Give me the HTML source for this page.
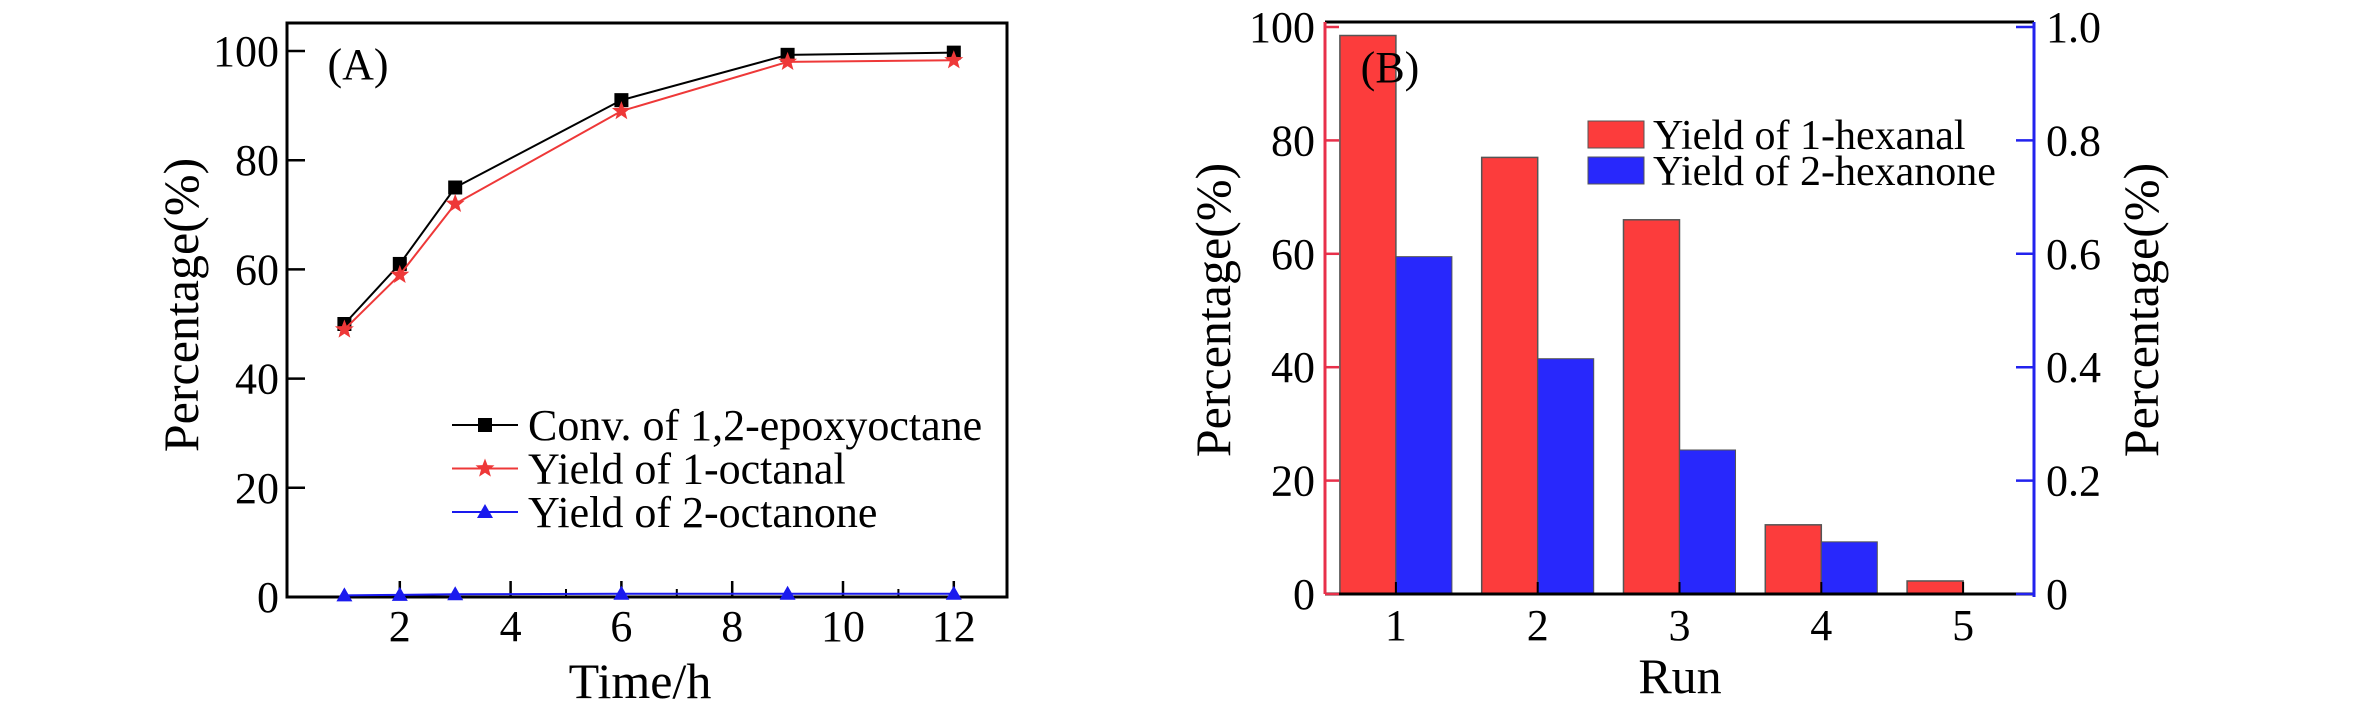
<!DOCTYPE html>
<html><head><meta charset="utf-8"><style>
html,body{margin:0;padding:0;background:#fff;}
svg text{font-family:"Liberation Serif",serif;fill:#000;}
</style></head><body>
<svg id="chart" width="2362" height="709" viewBox="0 0 2362 709" xmlns="http://www.w3.org/2000/svg"></svg>
<script>
// Panel A data
const times = [1, 2, 3, 6, 9, 12];
const convEpoxy = [50, 61, 75, 91, 99.3, 99.7];
const yieldOctanal = [49, 59, 72, 89, 98, 98.3];
const yieldOctanone = [0.3, 0.4, 0.5, 0.6, 0.6, 0.6];
const xTicksA = [2, 4, 6, 8, 10, 12];
const yTicksA = [0, 20, 40, 60, 80, 100];
// Panel B data
const runs = [1, 2, 3, 4, 5];
const yieldHexanal = [98.5, 77, 66, 12.2, 2.3];
const yieldHexanone = [0.595, 0.415, 0.254, 0.092, 0];
const yTicksBL = [0, 20, 40, 60, 80, 100];
const yTicksBR = ["0", "0.2", "0.4", "0.6", "0.8", "1.0"];

const svg = document.getElementById('chart');
const NS = 'http://www.w3.org/2000/svg';
const TICK = 44, TITLE = 50, LEG = 44;
function mk(tag, attrs, parent) {
  const e = document.createElementNS(NS, tag);
  for (const k in attrs) e.setAttribute(k, attrs[k]);
  (parent || svg).appendChild(e);
  return e;
}
function txt(s, x, y, size, anchor, parent) {
  const t = mk('text', {x: x, y: y, 'font-size': size, 'text-anchor': anchor || 'middle'}, parent);
  t.textContent = s;
  return t;
}

// ===== Panel A =====
const gA = mk('g', {});


const axL = 287, axR = 1007, axT = 23, axB = 597;
const xA = v => 289 + v * 55.4;
const yA = v => 597 - v * 5.46;
const frame = mk('rect', {x: axL, y: axT, width: axR - axL, height: axB - axT, fill: 'none', stroke: '#000', 'stroke-width': 3}, gA);


xTicksA.forEach(v => {
  mk('line', {x1: xA(v), x2: xA(v), y1: axB, y2: axB - 16, stroke: '#000', 'stroke-width': 2.5}, gA);
  const t = txt(String(v), xA(v), axB + 44, TICK, 'middle', gA);
  
  
});
[1, 3, 5, 7, 9, 11].forEach(v => mk('line', {x1: xA(v), x2: xA(v), y1: axB, y2: axB - 8, stroke: '#000', 'stroke-width': 2}, gA));
yTicksA.forEach(v => {
  mk('line', {x1: axL, x2: axL + 18, y1: yA(v), y2: yA(v), stroke: '#000', 'stroke-width': 2.5}, gA);
  const t = txt(String(v), axL - 8, yA(v) + 15, TICK, 'end', gA);
  
  
});
const xtA = txt('Time/h', 640, 698, TITLE, 'middle', gA);


const ytA = txt('Percentage(%)', 0, 0, TITLE, 'middle', gA);
ytA.setAttribute('transform', 'translate(198,305) rotate(-90)');


const la = txt('(A)', 358, 79, TICK, 'middle', gA);



function starPath(cx, cy, r) {
  let d = '';
  for (let i = 0; i < 10; i++) {
    const rr = i % 2 ? r * 0.42 : r;
    const a = -Math.PI / 2 + i * Math.PI / 5;
    d += (i ? 'L' : 'M') + (cx + rr * Math.cos(a)).toFixed(1) + ' ' + (cy + rr * Math.sin(a)).toFixed(1);
  }
  return d + 'Z';
}
function marker(kind, cx, cy, color, parent) {
  if (kind === 'square') return mk('rect', {x: cx - 7, y: cy - 7, width: 14, height: 14, fill: color}, parent);
  if (kind === 'star') return mk('path', {d: starPath(cx, cy, 10), fill: color}, parent);
  return mk('path', {d: `M${cx} ${cy - 8}L${cx + 8} ${cy + 6}L${cx - 8} ${cy + 6}Z`, fill: color}, parent);
}
function series(vals, color, kind, name) {
  const g = mk('g', {}, gA);
  
  
  mk('polyline', {points: times.map((t, i) => xA(t) + ',' + yA(vals[i])).join(' '), fill: 'none', stroke: color, 'stroke-width': 2}, g);
  times.forEach((t, i) => {
    const m = marker(kind, xA(t), yA(vals[i]), color, g);
    
    
  });
}
series(convEpoxy, '#000', 'square', 'conv-epoxyoctane-series');
series(yieldOctanal, '#ee3838', 'star', 'yield-octanal-series');
series(yieldOctanone, '#1a1aee', 'tri', 'yield-octanone-series');

const legA = [['Conv. of 1,2-epoxyoctane', '#000', 'square'], ['Yield of 1-octanal', '#ee3838', 'star'], ['Yield of 2-octanone', '#1a1aee', 'tri']];
legA.forEach((l, i) => {
  const y = 425 + i * 43.5;
  const g = mk('g', {}, gA);
  
  
  mk('line', {x1: 452, x2: 518, y1: y, y2: y, stroke: l[1], 'stroke-width': 2}, g);
  marker(l[2], 485, y, l[1], g);
  txt(l[0], 528, y + 15, LEG, 'start', g);
});

// ===== Panel B =====
const gB = mk('g', {});


const bL = 1325, bR = 2034, bT = 22, bB = 594;
const xB = v => bL + (v - 0.5) * 141.8;
const yB = v => bB - v * 5.67;
const yBR = v => bB - v * 567;
const bw = 0.395 * 141.8;
runs.forEach((r, i) => {
  const rb = mk('rect', {x: xB(r) - bw, y: yB(yieldHexanal[i]), width: bw, height: bB - yB(yieldHexanal[i]), fill: '#fc3c3c', stroke: '#555', 'stroke-width': 1.5}, gB);
  
  
  if (yieldHexanone[i] > 0) {
    const bb = mk('rect', {x: xB(r), y: yBR(yieldHexanone[i]), width: bw, height: bB - yBR(yieldHexanone[i]), fill: '#2828fc', stroke: '#555', 'stroke-width': 1}, gB);
    
    
  }
});
mk('line', {x1: bL, x2: bR, y1: bT, y2: bT, stroke: '#000', 'stroke-width': 3}, gB);
mk('line', {x1: bL, x2: bR, y1: bB, y2: bB, stroke: '#000', 'stroke-width': 3}, gB);
mk('line', {x1: bL, x2: bL, y1: bT, y2: bB, stroke: '#e8304a', 'stroke-width': 3}, gB);
mk('line', {x1: bR, x2: bR, y1: bT, y2: bB + 3, stroke: '#2222ee', 'stroke-width': 3}, gB);
runs.forEach(r => {
  mk('line', {x1: xB(r), x2: xB(r), y1: bB, y2: bB - 12, stroke: '#000', 'stroke-width': 2}, gB);
  const t = txt(String(r), xB(r), bB + 46, TICK, 'middle', gB);
  
  
});
yTicksBL.forEach(v => {
  mk('line', {x1: bL, x2: bL + 14, y1: yB(v), y2: yB(v), stroke: '#e8304a', 'stroke-width': 2.5}, gB);
  const t = txt(String(v), bL - 10, yB(v) + 15, TICK, 'end', gB);
  
  
});
yTicksBR.forEach((s, i) => {
  const y = bB - i * 0.2 * 567;
  mk('line', {x1: bR - 18, x2: bR, y1: y, y2: y, stroke: '#2222ee', 'stroke-width': 2.5}, gB);
  const t = txt(s, bR + 12, y + 15, TICK, 'start', gB);
  
  
});
const xtB = txt('Run', 1680, 693, TITLE, 'middle', gB);


const ytBL = txt('Percentage(%)', 0, 0, TITLE, 'middle', gB);
ytBL.setAttribute('transform', 'translate(1230,310) rotate(-90)');


const ytBR = txt('Percentage(%)', 0, 0, TITLE, 'middle', gB);
ytBR.setAttribute('transform', 'translate(2158,310) rotate(-90)');


const lb = txt('(B)', 1390, 82, TICK, 'middle', gB);


const legB = [['Yield of 1-hexanal', '#fc3c3c', 121], ['Yield of 2-hexanone', '#2828fc', 157]];
legB.forEach(l => {
  const g = mk('g', {}, gB);
  
  
  mk('rect', {x: 1588, y: l[2], width: 56, height: 27, fill: l[1], stroke: '#555', 'stroke-width': 1}, g);
  txt(l[0], 1653, l[2] + 28, 42, 'start', g);
});
</script>
</body></html>
